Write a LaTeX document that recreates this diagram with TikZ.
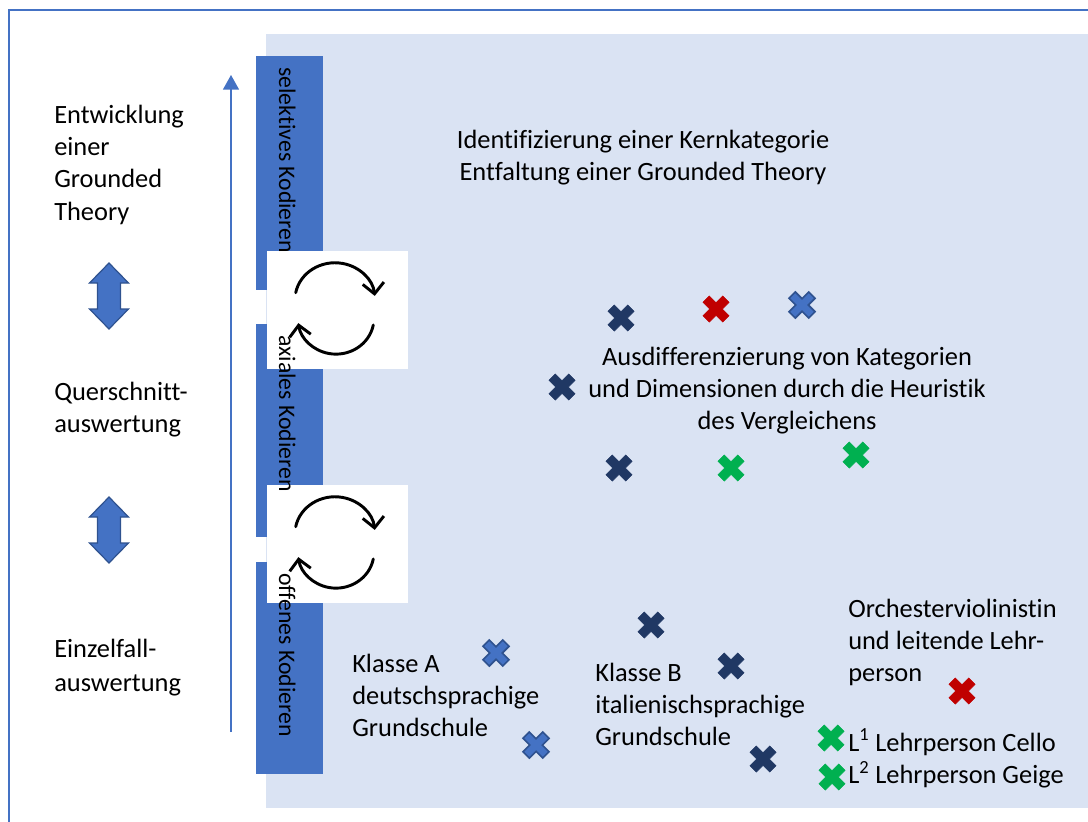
\documentclass[tikz,border=0pt]{standalone}
\usepackage{fontspec}
\setmainfont{Carlito}[Ligatures=NoCommon]
\usetikzlibrary{arrows.meta}
\definecolor{accent}{HTML}{4472C4}
\definecolor{panel}{HTML}{DAE3F3}
\definecolor{navy}{HTML}{203864}
\definecolor{xred}{HTML}{C00000}
\definecolor{xgreen}{HTML}{00B050}
\definecolor{edge}{HTML}{2F528F}
\tikzset{
  txt/.style={inner sep=0pt, text=black, font=\fontsize{19.8pt}{24.3pt}\selectfont},
  bartxt/.style={inner sep=0pt, text=black, rotate=-90, anchor=base west, font=\fontsize{17.8pt}{21pt}\selectfont},
  barbox/.style={fill=accent, draw=none},
  whitebox/.style={fill=white, draw=none},
  cyc/.style={line width=2.2pt, line cap=round, black, -{Straight Barb[length=8pt,width=16pt,line width=2.2pt]}},
  navyx/.style={fill=navy, draw=navy, line width=0.4pt},
  bluex/.style={fill=accent, draw=edge, line width=1.2pt},
  redx/.style={fill=xred, draw=xred, line width=0.4pt},
  greenx/.style={fill=xgreen, draw=xgreen, line width=0.4pt},
  xcross/.pic={\path[pic actions, rotate=45] (14,4.5) -- (4.5,4.5) -- (4.5,14) -- (-4.5,14) -- (-4.5,4.5) -- (-14,4.5) -- (-14,-4.5) -- (-4.5,-4.5) -- (-4.5,-14) -- (4.5,-14) -- (4.5,-4.5) -- (14,-4.5) -- cycle;},
  dblarrow/.pic={\path[pic actions] (0,33) -- (19.5,13) -- (11.5,13) -- (11.5,-13) -- (19.5,-13) -- (0,-33) -- (-19.5,-13) -- (-11.5,-13) -- (-11.5,13) -- (-19.5,13) -- cycle;},
  dblstyle/.style={fill=accent, draw=edge, line width=0.9pt}
}
\begin{document}
\begin{tikzpicture}[x=0.75pt,y=0.75pt]
\useasboundingbox (0,0) rectangle (1088,-821);
% outer frame
\draw[accent, line width=1.5pt] (8.5,-10) rectangle (1110,-840);
% light panel
\fill[panel] (266,-34) rectangle (1100,-808);
% coding bars
\path[barbox] (256,-56) rectangle (323,-290);
\path[barbox] (256,-324) rectangle (323,-537);
\path[barbox] (256,-562) rectangle (323,-774);
% white boxes with cycle arrows
\path[whitebox] (267,-251) rectangle (408,-369);
\path[whitebox] (267,-485) rectangle (408,-603);
\draw[cyc] (295.7,-292.7) arc[start angle=169, end angle=6, x radius=40, y radius=37];
\draw[cyc] (373.3,-325) arc[start angle=-11, end angle=-172, x radius=38, y radius=36];
\draw[cyc] (295.7,-526.7) arc[start angle=169, end angle=6, x radius=40, y radius=37];
\draw[cyc] (373.3,-559) arc[start angle=-11, end angle=-172, x radius=38, y radius=36];
% bar texts
\node[bartxt] (sel) at (279,-67) {selektives Kodieren};
\node[bartxt] (axi) at (279,-335) {axiales Kodieren};
\node[bartxt] (off) at (279,-573) {offenes Kodieren};
% vertical arrow
\coordinate (arrbot) at (231,-732);
\coordinate (arrtop) at (231,-75);
\draw[accent, line width=1.1pt, -{Triangle[length=11pt,width=12pt]}] (arrbot) -- (arrtop);
% double arrows
\pic[dblstyle] at (109,-296) {dblarrow};
\pic[dblstyle] at (109,-530) {dblarrow};
% left texts
\node[txt, anchor=base west] (lt1) at (54,-123) {\begin{tabular}[t]{@{}l@{}}Entwicklung\\einer\\Grounded\\Theory\end{tabular}};
\node[txt, anchor=base west] (lt2) at (54,-400) {\begin{tabular}[t]{@{}l@{}}Querschnitt-\\auswertung\end{tabular}};
\node[txt, anchor=base west] (lt3) at (54,-657) {\begin{tabular}[t]{@{}l@{}}Einzelfall-\\[1.5pt]auswertung\end{tabular}};
% panel texts
\node[txt, anchor=base] (kern) at (643,-148) {\begin{tabular}[t]{@{}c@{}}Identifizierung einer Kernkategorie\\Entfaltung einer Grounded Theory\end{tabular}};
\node[txt, anchor=base] (ausd) at (787,-365) {\begin{tabular}[t]{@{}c@{}}Ausdifferenzierung von Kategorien\\und Dimensionen durch die Heuristik\\des Vergleichens\end{tabular}};
\node[txt, anchor=base west] (ka) at (352,-672) {\begin{tabular}[t]{@{}l@{}}Klasse A\\deutschsprachige\\Grundschule\end{tabular}};
\node[txt, anchor=base west] (kb) at (595,-681) {\begin{tabular}[t]{@{}l@{}}Klasse B\\italienischsprachige\\Grundschule\end{tabular}};
\node[txt, anchor=base west] (orch) at (848,-617) {\begin{tabular}[t]{@{}l@{}}Orchesterviolinistin\\und leitende Lehr-\\person\end{tabular}};
\node[txt, anchor=base west] (lp) at (848,-751) {\begin{tabular}[t]{@{}l@{}}L\textsuperscript{1} Lehrperson Cello\\L\textsuperscript{2} Lehrperson Geige\end{tabular}};
% crosses
\pic[navyx] at (621,-318) {xcross};
\pic[navyx] at (562,-387) {xcross};
\pic[navyx] at (619,-468) {xcross};
\pic[navyx] at (651,-625) {xcross};
\pic[navyx] at (731,-666) {xcross};
\pic[navyx] at (763,-759) {xcross};
\pic[redx] at (716,-309) {xcross};
\pic[redx] at (962,-691) {xcross};
\pic[bluex] at (802,-305) {xcross};
\pic[bluex] at (496,-653) {xcross};
\pic[bluex] at (536,-745) {xcross};
\pic[greenx] at (731,-468) {xcross};
\pic[greenx] at (856,-455) {xcross};
\pic[greenx] at (831,-738) {xcross};
\pic[greenx] at (832,-777) {xcross};
\end{tikzpicture}
\end{document}
